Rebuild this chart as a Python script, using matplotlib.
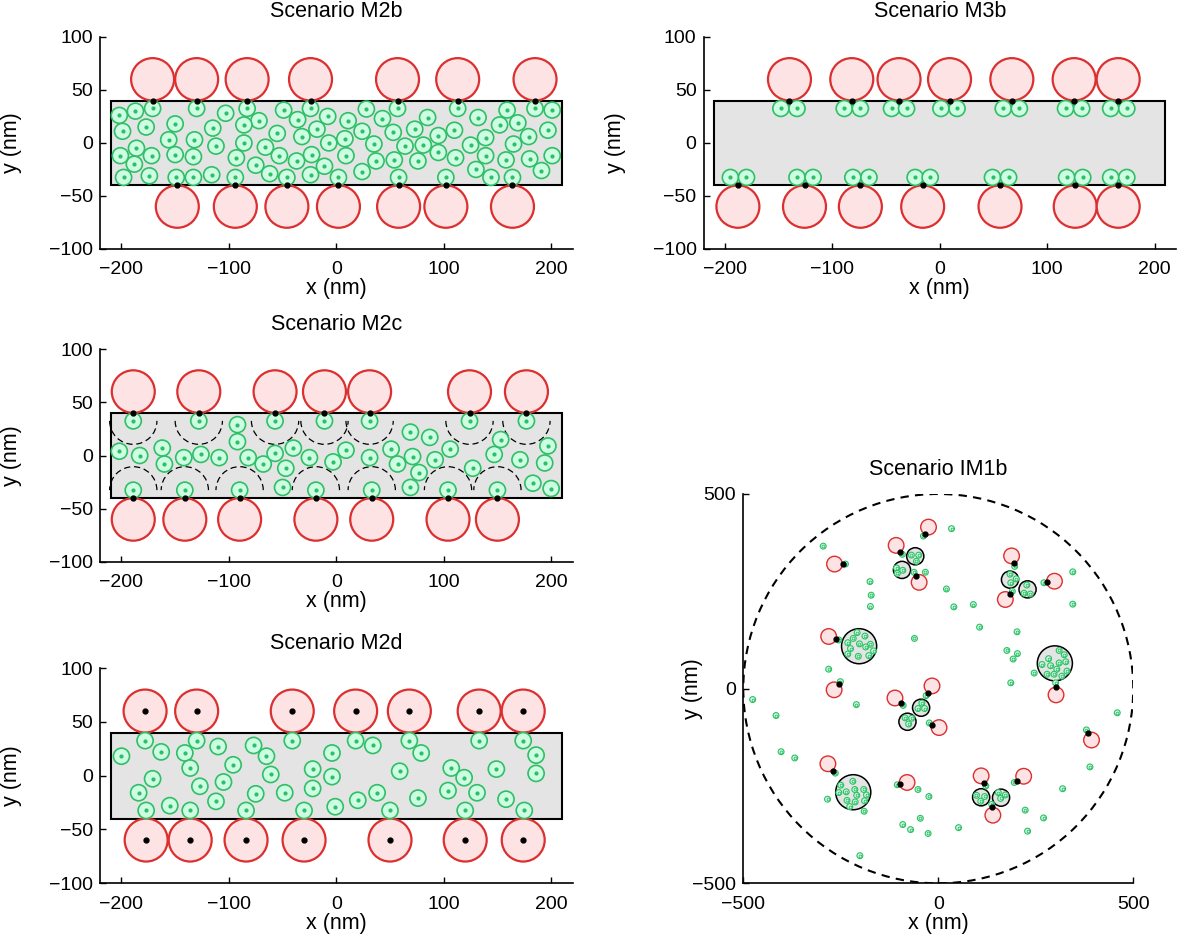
import numpy as np
import matplotlib.pyplot as plt
from matplotlib.patches import Circle, Rectangle, Arc

plt.rcParams['font.family'] = ['Liberation Sans', 'DejaVu Sans']

# ---------------- data (nm) ----------------
# Scenario M2b
m2b_red_top = [-171, -130, -83, -24, 57, 113, 185]
m2b_red_bot = [-148, -94, -46, 2, 58, 102, 164]
m2b_green_x = [-202, -187, -171, -199, -177, -150, -130, -103, -83, -72, -86, -115, -156, -132,
               -201, -186, -172, -188, -198, -174, -150, -133, -112, -86, -93, -149, -133, -116,
               -94, -49, -36, -24, -8, -18, -55, -32, -66, -53, -37, -23, -75, -62, -46, -24,
               -11, -7, 8, 11, 9, 2, 28, 24, 35, 37, 24, 43, 57, 53, 64, 54, 58, 73, 85, 81,
               76, 95, 95, 110, 111, 113, 102, 132, 125, 139, 139, 130, 144, 152, 159, 169,
               165, 158, 164, 179, 185, 201, 197, 180, 201, 191]
m2b_green_y = [26, 30, 32.5, 11, 15, 18, 32.5, 28, 32.5, 21, 17, 14, 3, 3,
               -12, -5, -12, -20, -32.5, -31, -11, -13, -3, 0, -14, -32.5, -32.5, -30,
               -32.5, 31, 22, 32.5, 25, 13, 9, 6, -4, -12, -17, -11, -21, -29, -32.5, -30,
               -22, 0, 4, 21, -12, -32.5, 32, 11, -1, -17, -27, 23, 32.5, 10, -3, -16, -32.5, 13, 24, -2,
               -17, 7, -9, 12, -14, 32.5, -32.5, 24, -2, 5, -12, -25, -32.5, 17, 31, 19,
               -1, -16, -32.5, 6, 32.5, 31, 12, -15, -12, -26]

# Scenario M3b
m3b_red_top = [-140, -82, -38, 9, 67, 125, 166]
m3b_red_bot = [-188, -126, -74, -16, 56, 126, 166]
m3b_green_x = [-148, -133, -89, -74, -45, -31, 1, 16, 59, 74, 117, 132, 159, 174,
               -195, -180, -133, -118, -81, -66, -23, -9, 49, 64, 118, 133, 159, 174]
m3b_green_y = [32.5] * 14 + [-32.5] * 14

# Scenario M2c
m2c_red_top = [-189, -128, -57, -11, 31, 124, 177]
m2c_red_bot = [-189, -141, -90, -19, 33, 104, 150]
m2c_green_x = [-189, -128, -57, -11, 31, 124, 177,
               -189, -141, -90, -19, 33, 104, 150,
               -92, -92, -202, -183, -162, -160, -142, -126, -109, -82, -68, -57, -47,
               -40, -25, -50, -3, 9, 31, 51, 57, 69, 87, 71, 77, 69, 92, 106, 127,
               147, 153, 171, 197, 194, 183, 200]
m2c_green_y = [32.5] * 7 + [-32.5] * 7 + \
              [29, 13, 4, 0, 7, -8, -2, 1, -2, -2, -8, 2, -12,
               7, -2, -30, -6, 5, -2, 6, -8, 22, 17, -1, -16, -30, -4, 6, -12,
               1, 15, -4, 9, -7, -26, -31]

# Scenario M2d
m2d_red_top = [-178, -130, -41, 18, 68, 133, 174]
m2d_red_bot = [-177, -136, -84, -30, 50, 120, 174]
m2d_green_x = [-178, -130, -41, 18, 68, 133, 174,
               -177, -136, -84, -30, 50, 120, 175,
               -200, -163, -141, -110, -77, -65, -136, -96, -61, -171, -184, -155,
               -127, -105, -112, -75, -48, -22, -4, -4, -22, -1, 20, 34, 38, 59,
               79, 76, 107, 119, 104, 131, 149, 158, 186, 186]
m2d_green_y = [32.5] * 7 + [-32.5] * 7 + \
              [18, 22, 21, 27, 28, 18, 7, 10, 1, -3, -16, -28,
               -10, -6, -24, -17, -16, 6, 21, -1, -12, -29, -23, 28, -16, 4,
               21, -21, 7, -2, -14, -16, 6, -22, 19, 2]

# Scenario IM1b
im_red_x = [-25, -108, -49, -266, -281, -267, -16, -111, 2, 188, 172, 298, 302, 393, 219, 110, 140, -80, -283]
im_red_y = [415, 368, 273, 320, 134, -3, 7, -24, -100, 341, 229, 276, -16, -132, -225, -224, -325, -241, -193]
im_dot_x = [-35, -97, -57, -245, -262, -255, -27, -96, -16, 194, 184, 279, 301, 383, 202, 118, 138, -98, -269]
im_dot_y = [397, 351, 290, 320, 128, 11, -11, -37, -93, 322, 243, 273, 4, -113, -236, -243, -304, -245, -211]
im_ves_x = [-59, -93, -203, -44, -79, 184, 229, 299, 110, 161, -218]
im_ves_y = [340, 305, 109, -49, -85, 280, 255, 65, -279, -280, -266]
im_ves_r = [22, 22, 45, 22, 22, 22, 22, 45, 22, 22, 45]
im_green_x = [-69, -50, -56, -107, -91, -105, -62, -33, -38, -92,
              -238, -295, -175, -172, -174,
              -208, -188, -218, -232, -202, -174, -225, -186, -166, -232, -178, -205,
              -255, -61, -281, -251, -31, -90, -42, -52, -35, -85, -68, -76, -23, -210,
              106, 202, 176, 203, 192, 186,
              34, 196, 184, 200, 186, 227, 220, 236, 190, 271, 345, 21, 40, 90, 345,
              310, 323, 283, 327, 310, 266, 288, 304, 330, 279, 297, 317, 246, 301,
              459, 380, 389, 319, 270, 223, 229, 52, 195, 122, 98, 119, 109, 154, 172, 160, 137,
              -476, -416, -403, -368, -264,
              -219, -250, -236, -214, -191, -255, -209, -184, -234, -189, -213, -227, -190,
              -284, -201, -105, -52, -24, -91, -71, -46, -26]
im_green_y = [343, 343, 327, 310, 304, 296, 299, 299, 392, 345,
              320, 366, 275, 240, 211,
              144, 135, 129, 118, 115, 114, 103, 107, 97, 89, 85, 83,
              125, 129, 50, 18, -18, -43, -37, -51, -51, -75, -76, -91, -88, -41,
              158, 146, 98, 90, 76, 15,
              411, 314, 294, 282, 272, 266, 245, 243, 250, 272, 300, 256, 210, 216, 217,
              98, 87, 77, 69, 66, 62, 59, 50, 45, 37, 37, 32, 40, 15,
              -62, -106, -201, -257, -332, -312, -366, -357, -241, -250, -274, -277, -289, -267, -273, -282, -297,
              -28, -69, -162, -178, -217,
              -238, -248, -265, -259, -259, -267, -274, -273, -287, -288, -291, -303, -315,
              -284, -429, -247, -259, -277, -349, -362, -333, -372]

# ---------------- style ----------------
RED_E, RED_F = '#dc2f2f', '#fde3e3'
GRN_E, GRN_F = '#2fbf65', '#cdfde3'
GRAY = '#e4e4e4'
R_RED, R_GRN = 20, 7.5

fig = plt.figure(figsize=(11.9, 9.42), dpi=100)


def style_axes(ax, xt, yt, ylab_x):
    for s in ['top', 'right']:
        ax.spines[s].set_visible(False)
    for s in ['left', 'bottom']:
        ax.spines[s].set_linewidth(1.2)
    ax.set_xticks(xt)
    ax.set_yticks(yt)
    ax.tick_params(direction='in', length=4, width=1, labelsize=14)
    ax.tick_params(axis='x', pad=9)
    ax.tick_params(axis='y', pad=5)
    ax.set_xlabel('x (nm)', fontsize=15.5, labelpad=0)
    ax.set_ylabel('y (nm)', fontsize=15.5)
    ax.yaxis.set_label_coords(ylab_x, 0.5)


def rect_panel(pos, title, red_top, red_bot, gx, gy, centre_dots=False, arcs=False):
    ax = fig.add_axes(pos)
    ax.add_patch(Rectangle((-210, -40), 420, 80, facecolor=GRAY, edgecolor='k', lw=1.5, zorder=1))
    if arcs:
        for x in red_top:
            ax.add_patch(Arc((x, 32.5), 44, 44, theta1=180, theta2=360, color='k', lw=0.9,
                             linestyle=(0, (5, 3)), zorder=2))
        for x in red_bot:
            ax.add_patch(Arc((x, -32.5), 44, 44, theta1=0, theta2=180, color='k', lw=0.9,
                             linestyle=(0, (5, 3)), zorder=2))
    for x in red_top:
        ax.add_patch(Circle((x, 60), R_RED, facecolor=RED_F, edgecolor=RED_E, lw=1.6, zorder=3))
    for x in red_bot:
        ax.add_patch(Circle((x, -60), R_RED, facecolor=RED_F, edgecolor=RED_E, lw=1.6, zorder=3))
    for x, y in zip(gx, gy):
        ax.add_patch(Circle((x, y), R_GRN, facecolor=GRN_F, edgecolor=GRN_E, lw=1.2, zorder=4))
    ax.plot(gx, gy, 'o', ms=2.0, color=GRN_E, zorder=5)
    if centre_dots:
        ax.plot(red_top, [60] * len(red_top), 'ko', ms=3.5, zorder=6)
        ax.plot(red_bot, [-60] * len(red_bot), 'ko', ms=3.5, zorder=6)
    else:
        ax.plot(red_top, [40] * len(red_top), 'ko', ms=3.5, zorder=6)
        ax.plot(red_bot, [-40] * len(red_bot), 'ko', ms=3.5, zorder=6)
    ax.set_xlim(-220, 220)
    ax.set_ylim(-100, 100)
    style_axes(ax, [-200, -100, 0, 100, 200], [-100, -50, 0, 50, 100], -0.165)
    ax.set_title(title, fontsize=15.5, pad=14)
    return ax


rect_panel([0.0840, 0.7357, 0.3972, 0.2251], 'Scenario M2b', m2b_red_top, m2b_red_bot, m2b_green_x, m2b_green_y)
rect_panel([0.5912, 0.7357, 0.3972, 0.2251], 'Scenario M3b', m3b_red_top, m3b_red_bot, m3b_green_x, m3b_green_y)
rect_panel([0.0840, 0.4034, 0.3972, 0.2261], 'Scenario M2c', m2c_red_top, m2c_red_bot, m2c_green_x, m2c_green_y,
           arcs=True)
rect_panel([0.0840, 0.0626, 0.3972, 0.2282], 'Scenario M2d', m2d_red_top, m2d_red_bot, m2d_green_x, m2d_green_y,
           centre_dots=True)

# IM1b
ax = fig.add_axes([0.6246, 0.0623, 0.3277, 0.4133])
ax.add_patch(Circle((0, 0), 500, fill=False, edgecolor='k', lw=1.5, linestyle=(0, (4, 3)), zorder=1))
for x, y, r in zip(im_ves_x, im_ves_y, im_ves_r):
    ax.add_patch(Circle((x, y), r, facecolor=GRAY, edgecolor='k', lw=1.1, zorder=2))
for x, y in zip(im_red_x, im_red_y):
    ax.add_patch(Circle((x, y), R_RED, facecolor=RED_F, edgecolor=RED_E, lw=1.0, zorder=3))
for x, y in zip(im_green_x, im_green_y):
    ax.add_patch(Circle((x, y), R_GRN, facecolor=GRN_F, edgecolor=GRN_E, lw=0.8, zorder=4))
ax.plot(im_green_x, im_green_y, 'o', ms=2.0, mfc='none', mec=GRN_E, mew=0.6, zorder=5)
ax.plot(im_dot_x, im_dot_y, 'ko', ms=3.5, zorder=6)
ax.set_xlim(-500, 500)
ax.set_ylim(-500, 500)
style_axes(ax, [-500, 0, 500], [-500, 0, 500], -0.103)
ax.set_title('Scenario IM1b', fontsize=15.5, pad=14)

fig.savefig('out.png', dpi=100)
